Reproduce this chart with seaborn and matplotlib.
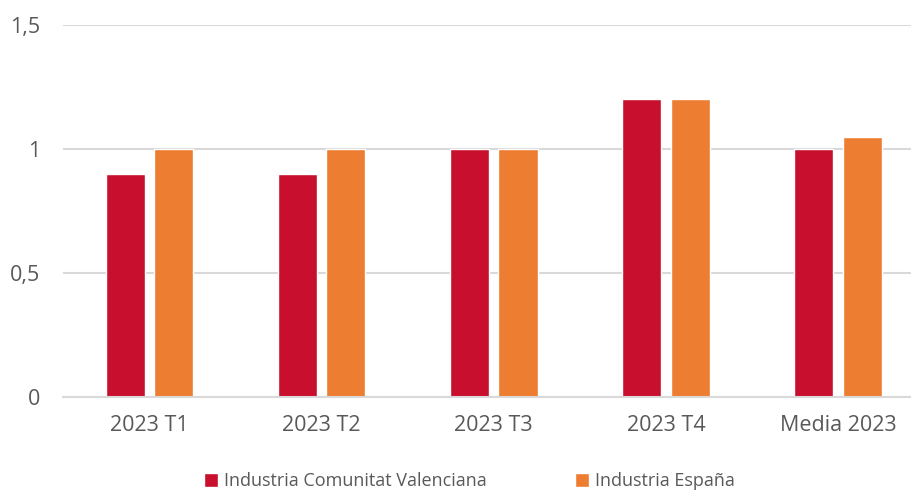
import numpy as np
import pandas as pd
import matplotlib
matplotlib.use("Agg")
import matplotlib.pyplot as plt
import seaborn as sns

categories = ["2023 T1", "2023 T2", "2023 T3", "2023 T4", "Media 2023"]
series_names = ["Industria Comunitat Valenciana", "Industria España"]
valenciana = [0.9, 0.9, 1.0, 1.2, 1.0]
espana = [1.0, 1.0, 1.0, 1.2, 1.05]
yticks = [0, 0.5, 1, 1.5]
ytick_labels = ["0", "0,5", "1", "1,5"]
colors = ["#C8102E", "#ED7D31"]

df = pd.DataFrame({
    "cat": categories * 2,
    "serie": [series_names[0]] * 5 + [series_names[1]] * 5,
    "valor": valenciana + espana,
})

sns.set_style("white")
plt.rcParams["font.family"] = ["Open Sans", "DejaVu Sans"]

fig = plt.figure(figsize=(9.12, 4.9), dpi=100)
ax = fig.add_axes([63.5 / 912, 1 - 397 / 490, (912 - 63.5) / 912, (397 - 25) / 490])

sns.barplot(data=df, x="cat", y="valor", hue="serie", palette=colors,
            width=0.564, gap=0.195, ax=ax, saturation=1)

ax.set_ylim(0, 1.5)
ax.set_xlim(-0.5, 4.5 - 12 / 172)
ax.set_yticks(yticks)
ax.set_yticklabels(ytick_labels)
ax.yaxis.grid(True, color="#d9d9d9", linewidth=1.5)
ax.set_axisbelow(True)
for s in ["top", "right", "left"]:
    ax.spines[s].set_visible(False)
ax.spines["bottom"].set_color("#d9d9d9")
ax.spines["bottom"].set_linewidth(1.5)
ax.tick_params(axis="both", length=0, labelsize=15.5, labelcolor="#595959")
ax.tick_params(axis="y", pad=17)
ax.tick_params(axis="x", pad=13)
ax.set_xlabel("")
ax.set_ylabel("")

handles, labels = ax.get_legend_handles_labels()
ax.legend(handles, labels, loc="center", bbox_to_anchor=(469.5 / 912, 1 - 481 / 490),
          bbox_transform=fig.transFigure,
          ncol=2, frameon=False, fontsize=13, labelcolor="#595959",
          handlelength=0.78, handleheight=0.78, handletextpad=0.33, columnspacing=4.9,
          borderpad=0, borderaxespad=0)

fig.savefig("out.png", dpi=100)
